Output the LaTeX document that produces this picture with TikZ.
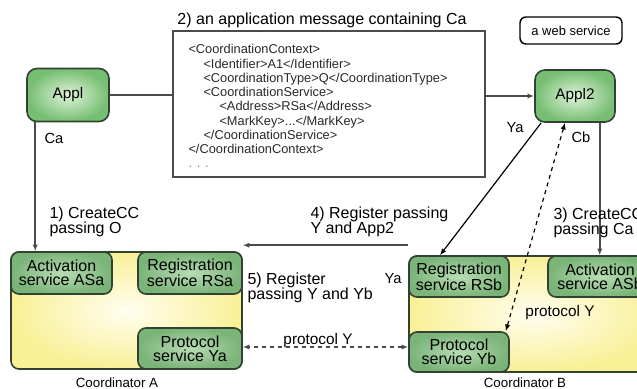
\documentclass[tikz,border=0pt]{standalone}
\usepackage{fontspec}
\setmainfont{Liberation Sans}
\usetikzlibrary{arrows.meta}

\definecolor{appIn}{RGB}{224,243,218}
\definecolor{appOut}{RGB}{118,190,114}
\definecolor{svcIn}{RGB}{184,220,180}
\definecolor{svcOut}{RGB}{122,180,120}
\definecolor{boxEdge}{RGB}{50,66,50}
\definecolor{coordIn}{RGB}{255,254,240}
\definecolor{coordOut}{RGB}{249,240,150}
\definecolor{wire}{RGB}{75,75,75}

\tikzset{every picture/.style={line width=0.75pt}}
\tikzset{
  appbox/.style={draw=boxEdge, line width=1.2pt, rounded corners=7.5pt, inner color=appIn, outer color=appOut, inner sep=0pt, font=\fontsize{11.5}{13}\selectfont},
  svcbox/.style={draw=boxEdge, line width=1.2pt, rounded corners=6pt, inner color=svcIn, outer color=svcOut, inner sep=0pt, align=center, font=\fontsize{12}{10.5}\selectfont},
  coordbox/.style={draw=boxEdge, line width=1.2pt, rounded corners=6pt, inner color=coordIn, outer color=coordOut, inner sep=0pt},
  webbox/.style={draw=black, line width=1.1pt, rounded corners=4.5pt, inner sep=0pt, font=\fontsize{9.7}{11}\selectfont},
  msgtext/.style={inner sep=0pt, align=left, font=\fontsize{9.6}{10.7}\selectfont, text={rgb,255:red,40;green,40;blue,40}},
  lbl/.style={inner sep=0pt, align=left, font=\fontsize{12}{11.25}\selectfont},
  wireline/.style={draw=wire, line width=1.4pt},
  arr/.style={-{Latex[length=5pt,width=4pt]}},
  twoarr/.style={{Latex[length=5pt,width=4pt]}-{Latex[length=5pt,width=4pt]}}
}

\begin{document}
\begin{tikzpicture}[x=0.75pt,y=0.75pt,yscale=-1,xscale=1]
\useasboundingbox (0,0) rectangle (637,389);

%Shape: Rounded Rect [id:dp4418027] 
\node [coordbox, minimum width=173.25pt, minimum height=87.75pt] (coordA) at (126.5,310.5) {};
%Shape: Rounded Rect [id:dp7720351] 
\node [coordbox, minimum width=188.25pt, minimum height=87pt] (coordB) at (534.5,314) {};

%Shape: Rounded Rect [id:dp1906624] 
\node [svcbox, minimum width=75.75pt, minimum height=31.5pt] (asa) at (61.5,273) {Activation\\service ASa};
%Shape: Rounded Rect [id:dp5531870] 
\node [svcbox, minimum width=78pt, minimum height=31.5pt] (rsa) at (190,273) {Registration\\service RSa};
%Shape: Rounded Rect [id:dp3382915] 
\node [svcbox, minimum width=78pt, minimum height=30.75pt] (psa) at (190,348.5) {Protocol\\service Ya};
%Shape: Rounded Rect [id:dp8845012] 
\node [svcbox, minimum width=75pt, minimum height=30.75pt] (rsb) at (459,276.5) {Registration\\service RSb};
%Shape: Rounded Rect [id:dp2290467] 
\node [svcbox, minimum width=75pt, minimum height=30pt] (psb) at (459,352) {Protocol\\service Yb};
%Shape: Rounded Rect [id:dp6603178] 
\node [svcbox, minimum width=78pt, minimum height=30.75pt] (asb) at (600,276.5) {Activation\\service ASb};

%Shape: Rounded Rect [id:dp9914203] 
\node [appbox, minimum width=61.5pt, minimum height=39.75pt] (appl) at (68,95) {Appl};
%Shape: Rounded Rect [id:dp0472661] 
\node [appbox, minimum width=60pt, minimum height=39pt] (appl2) at (575,96) {Appl2};
%Shape: Rounded Rect [id:dp3150898] 
\node [webbox, minimum width=76.5pt, minimum height=20.25pt] (websvc) at (571,30.5) {a web service};

%Shape: Rectangle [id:dp6128840] 
\node [draw=wire, line width=1.2pt, minimum width=234pt, minimum height=109.5pt, inner sep=0pt] (msg) at (329,104) {};
% Text Node
\node [msgtext, anchor=north west] (msgbody) at (188,44) {<CoordinationContext>\\
\hspace*{11.25pt}<Identifier>A1</Identifier>\\
\hspace*{11.25pt}<CoordinationType>Q</CoordinationType>\\
\hspace*{11.25pt}<CoordinationService>\\
\hspace*{23.25pt}<Address>RSa</Address>\\
\hspace*{23.25pt}<MarkKey>...</MarkKey>\\
\hspace*{11.25pt}</CoordinationService>\\
</CoordinationContext>\\
\textcolor{gray}{. . .}};

%Straight Lines [id:da2201937] 
\draw [wireline] (appl.east) -- (appl.east -| msg.west) ;
%Straight Lines [id:da8830142] 
\draw [wireline, arr] (msg.east |- appl2.west) -- (appl2.west) ;
%Straight Lines [id:da5507723] 
\draw [wireline, arr] ([xshift=6.75pt]appl.south west) -- ([xshift=6.75pt]appl.south west |- asa.north) ;
%Straight Lines [id:da1179834] 
\draw [wireline, arr] ([xshift=-12pt]appl2.south east) -- ([xshift=-12pt]appl2.south east |- asb.north) ;
%Straight Lines [id:da6650219] 
\draw [black, line width=0.9pt, arr] ([xshift=5.25pt]appl2.south west) -- ([xshift=-14.25pt]rsb.north) ;
%Straight Lines [id:da3348071] 
\draw [black, line width=0.9pt, dashed, twoarr] ([xshift=-7.5pt]appl2.south) -- ([xshift=-3pt]psb.north east) ;
%Straight Lines [id:da7024458] 
\draw [wireline, arr] ([yshift=-7.5pt]rsb.north west) -- ([yshift=-7.5pt]rsb.north west -| rsa.east) ;
%Straight Lines [id:da4492516] 
\draw [wireline, dashed, twoarr] ([yshift=-3.75pt]psb.west) -- ([yshift=-3.75pt]psb.west -| psa.east) ;

% Text Node
\node [lbl, anchor=west] (msgtitle) at (177,20) {2) an application message containing Ca};
% Text Node
\node [lbl, font=\fontsize{11}{13}\selectfont] (lblCa) at (54,138) {Ca};
% Text Node
\node [lbl, font=\fontsize{11}{13}\selectfont] (lblCb) at (581,137) {Cb};
% Text Node
\node [lbl, font=\fontsize{11}{13}\selectfont] (lblYa) at (515,128) {Ya};
% Text Node
\node [lbl, font=\fontsize{11}{13}\selectfont] (lblYaB) at (393,279) {Ya};
% Text Node
\node [lbl, anchor=north west] (step1) at (49,206) {1) CreateCC\\passing O};
% Text Node
\node [lbl, anchor=north west] (step3) at (553,207) {3) CreateCC\\passing Ca};
% Text Node
\node [lbl, anchor=north west] (step4) at (310,206) {4) Register passing\\Y and App2};
% Text Node
\node [lbl, anchor=north west] (step5) at (247,272) {5) Register\\passing Y and Yb};
% Text Node
\node [lbl, font=\fontsize{11.5}{13}\selectfont] (protAB) at (318,341) {protocol Y};
% Text Node
\node [lbl, font=\fontsize{11.5}{13}\selectfont] (protB) at (560,313) {protocol Y};
% Text Node
\node [lbl, font=\fontsize{10}{12}\selectfont] (nameA) at (117,383) {Coordinator A};
% Text Node
\node [lbl, font=\fontsize{10}{12}\selectfont] (nameB) at (525,383) {Coordinator B};

\end{tikzpicture}
\end{document}
